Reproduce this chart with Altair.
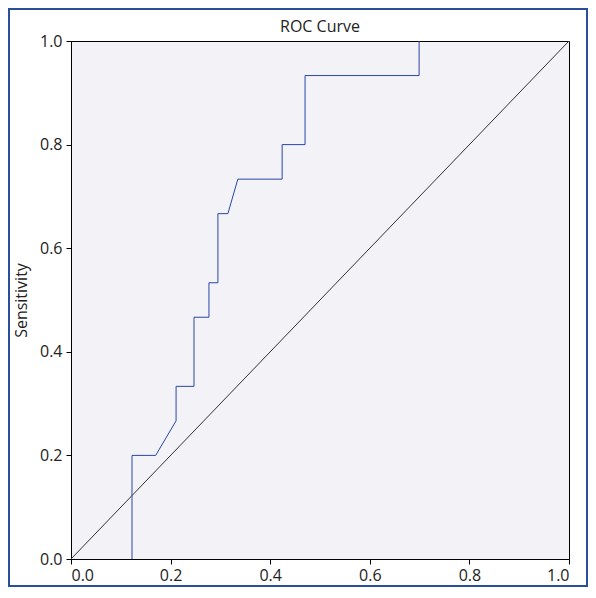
import altair as alt
import pandas as pd

# ROC curve points (1 - Specificity, Sensitivity)
fpr = [0.1225, 0.1225, 0.170, 0.211, 0.211, 0.247, 0.247, 0.277, 0.277, 0.295,
       0.295, 0.315, 0.335, 0.424, 0.424, 0.470, 0.470, 0.699, 0.699]
tpr = [0.0, 0.2, 0.2, 0.2667, 0.3333, 0.3333, 0.4667, 0.4667, 0.5333, 0.5333,
       0.6667, 0.6667, 0.7333, 0.7333, 0.8, 0.8, 0.9333, 0.9333, 1.0]
ref_x = [0.0, 1.0]
ref_y = [0.0, 1.0]
ticks = [0.0, 0.2, 0.4, 0.6, 0.8, 1.0]
title_text = ["ROC Curve"]

curve_df = pd.DataFrame({"fpr": fpr, "tpr": tpr, "i": range(len(fpr))})
ref_df = pd.DataFrame({"fpr": ref_x, "tpr": ref_y, "i": [0, 1]})

FONT = "Open Sans"
FS = 16
W, H = 498, 518
PAD = {"left": 63, "top": 33, "right": 19, "bottom": 28}

xs = alt.Scale(domain=[0, 1], nice=False, zero=False)
ys = alt.Scale(domain=[0, 1], nice=False, zero=False)

xaxis = alt.Axis(values=ticks, format=".1f", title=None, grid=False,
                 domainColor="black", tickColor="black", tickSize=5,
                 labelFontSize=FS, labelFont=FONT, labelColor="#222",
                 labelPadding=3)
yaxis = alt.Axis(values=ticks, format=".1f", title="Sensitivity", grid=False,
                 domainColor="black", tickColor="black", tickSize=5,
                 labelFontSize=FS, labelFont=FONT, labelColor="#222",
                 labelPadding=4, titleFont=FONT, titleFontSize=FS,
                 titleFontWeight="normal", titleColor="#222", titlePadding=10)

ref = alt.Chart(ref_df).mark_line(color="#333333", strokeWidth=1).encode(
    x=alt.X("fpr:Q", scale=xs, axis=xaxis),
    y=alt.Y("tpr:Q", scale=ys, axis=yaxis),
    order="i:Q",
)

curve = alt.Chart(curve_df).mark_line(color="#2a46a8", strokeWidth=1,
                                       interpolate="linear").encode(
    x=alt.X("fpr:Q", scale=xs),
    y=alt.Y("tpr:Q", scale=ys),
    order="i:Q",
)

title = alt.Chart(pd.DataFrame({"t": title_text})).mark_text(
    font=FONT, fontSize=FS, color="#222", align="center", baseline="alphabetic"
).encode(x=alt.value(W / 2), y=alt.value(-9), text="t:N")

border = alt.Chart(pd.DataFrame({"a": [0]})).mark_rect(
    fill=None, stroke="#2a4f9a", strokeWidth=2
).encode(
    x=alt.value(-PAD["left"] + 1), x2=alt.value(W + PAD["right"] - 1),
    y=alt.value(-PAD["top"] + 1), y2=alt.value(H + PAD["bottom"] - 1),
)

chart = alt.layer(ref, curve, title, border).properties(
    width=W, height=H,
    autosize=alt.AutoSizeParams(type="none"),
    padding=PAD,
    background="white",
).configure_view(
    fill="#f3f2f6", stroke="black", strokeWidth=1
)

chart.save("out.html", embed_options={"renderer": "svg", "actions": False})
